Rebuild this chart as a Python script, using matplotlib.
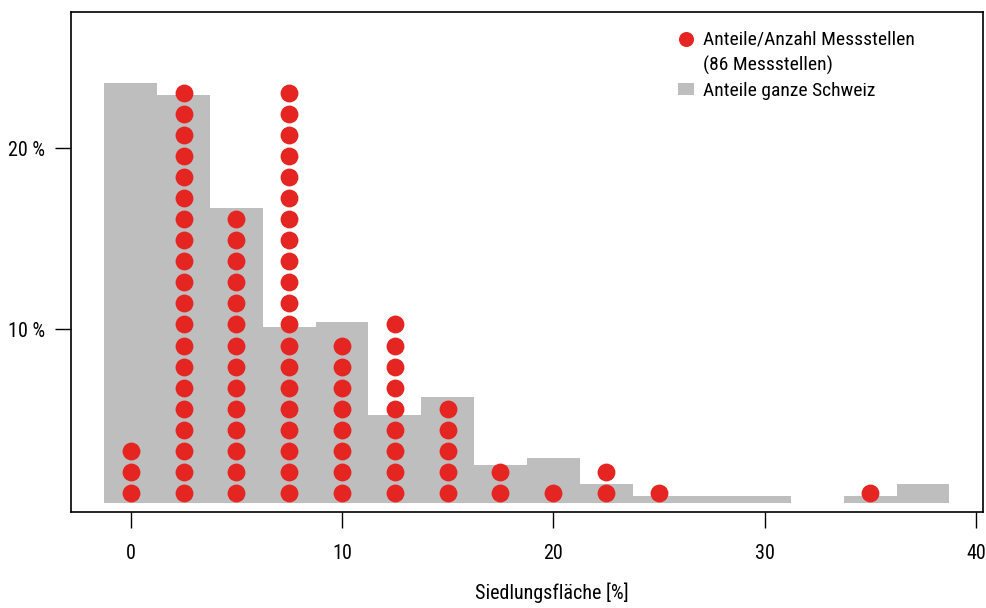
import numpy as np
import matplotlib
matplotlib.use('Agg')
import matplotlib.pyplot as plt

# share of the whole of Switzerland per settlement-area class (bins of 2.5 %)
bin_centers = [0, 2.5, 5, 7.5, 10, 12.5, 15, 17.5, 20, 22.5, 25, 27.5, 30, 32.5, 35, 37.5]
swiss_share = [23.24, 22.56, 16.3, 9.74, 10.04, 4.86, 5.9, 2.1, 2.49, 1.05, 0.39, 0.39, 0.39, 0.0, 0.39, 1.05]

# number of monitoring sites per class
site_classes = [0, 2.5, 5, 7.5, 10, 12.5, 15, 17.5, 20, 22.5, 25, 35]
site_counts = [3, 20, 14, 20, 8, 9, 5, 2, 1, 2, 1, 1]
n_sites = 86

x_ticks = [0, 10, 20, 30, 40]
y_ticks = [10, 20]
y_ticklabels = ['10 %', '20 %']

GREY = '#BEBEBE'
RED = '#E42521'
BASE = 0.38  # bars and dot stacks start slightly above zero
BIN_W = 2.5

plt.rcParams['font.family'] = ['Roboto Condensed', 'DejaVu Sans']

fig = plt.figure(figsize=(9.87, 6.08), dpi=100)
ax = fig.add_axes([0.0716, 0.1584, 0.9244, 0.8214])

ax.bar(bin_centers, swiss_share, width=BIN_W, bottom=BASE, color=GREY, linewidth=0, zorder=1)

step = 100.0 / n_sites
xs, ys = [], []
for c, n in zip(site_classes, site_counts):
    for k in range(n):
        xs.append(c)
        ys.append(BASE + (k + 0.5) * step)
ax.scatter(xs, ys, s=165, color=RED, linewidths=0, zorder=3)

ax.set_xlim(-2.84, 40.34)
ax.set_ylim(-0.077, 27.51)

ax.set_xticks(x_ticks)
ax.set_xticklabels([str(t) for t in x_ticks])
ax.set_yticks(y_ticks)
ax.set_yticklabels(y_ticklabels)
ax.tick_params(axis='both', direction='out', length=11.5, width=1.0, labelsize=14.5)
ax.tick_params(axis='x', pad=12)
ax.tick_params(axis='y', pad=7)
for sp in ax.spines.values():
    sp.set_linewidth(1.2)

ax.set_xlabel('Siedlungsfläche [%]', fontsize=14.5)
ax.xaxis.set_label_coords(0.5276, -0.1628)
ax.xaxis.label.set_va('center')

# legend, drawn by hand in axes fraction
ax.scatter([0.6748], [0.9471], s=117, color=RED, linewidths=0, transform=ax.transAxes, clip_on=False, zorder=4)
ax.add_patch(plt.Rectangle((0.6657, 0.8344), 0.0175, 0.024, color=GREY, transform=ax.transAxes, linewidth=0))
ax.text(0.6931, 0.9345, 'Anteile/Anzahl Messstellen', transform=ax.transAxes, fontsize=14, va='baseline')
ax.text(0.6931, 0.8823, '(86 Messstellen)', transform=ax.transAxes, fontsize=14, va='baseline')
ax.text(0.6931, 0.8324, 'Anteile ganze Schweiz', transform=ax.transAxes, fontsize=14, va='baseline')

fig.savefig('out.png', dpi=100)
